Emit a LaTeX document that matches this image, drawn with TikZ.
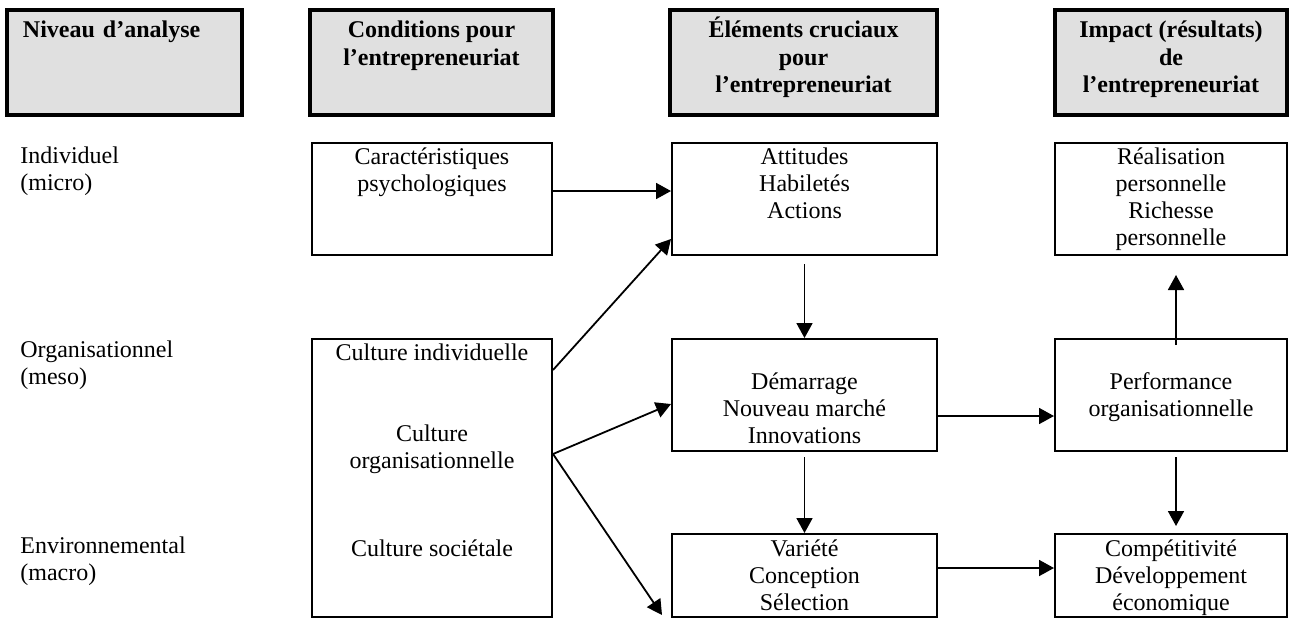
\documentclass[tikz,border=0pt]{standalone}
\usepackage{fontspec}
\setmainfont{Liberation Serif}
\usetikzlibrary{arrows.meta}
\definecolor{hdrgray}{RGB}{224,224,224}

\begin{document}
\begin{tikzpicture}[x=0.5pt,y=-0.5pt,
  font=\fontsize{12}{13.6}\selectfont,
  hdr/.style={draw, line width=1.8pt, fill=hdrgray, anchor=north, align=center,
    font=\fontsize{12}{13.6}\selectfont\bfseries, inner ysep=1.5pt},
  box/.style={draw, line width=1pt, anchor=north, align=center, inner ysep=1.5pt},
  lvl/.style={anchor=north west, align=left, inner sep=0pt, text height=22.6pt},
  arr/.style={-{Triangle[length=7.5pt,width=8pt]}, line width=0.9pt}]
\useasboundingbox (0,0) rectangle (1291,618);
% headers
\node[hdr, align=left, inner xsep=8pt, text width=101.5pt, text height=12.5pt, text depth=37pt] (h0) at (124.5,8) {Niveau d’analyse};
\node[hdr, minimum width=121.5pt, text height=26.1pt, text depth=23.4pt] (h1) at (431.5,8) {Conditions pour\\l’entrepreneuriat};
\node[hdr, minimum width=133.5pt, text height=39.7pt, text depth=9.8pt] (h2) at (803.5,8) {Éléments cruciaux\\pour\\l’entrepreneuriat};
\node[hdr, minimum width=116pt, text height=39.7pt, text depth=9.8pt] (h3) at (1171,8) {Impact (résultats)\\de\\l’entrepreneuriat};
% levels
\node[lvl] (l0) at (20,145) {Individuel\\(micro)};
\node[lvl] (l1) at (20,339) {Organisationnel\\(meso)};
\node[lvl] (l2) at (20,535) {Environnemental\\(macro)};
% boxes
\node[box, minimum width=120pt, text height=22.6pt, text depth=30.4pt] (caract) at (432,142) {Caractéristiques\\psychologiques};
\node[box, minimum width=132.5pt, text height=36.2pt, text depth=16.8pt] (attit) at (804.5,142) {Attitudes\\Habiletés\\Actions};
\node[box, minimum width=116pt, text height=49.8pt, text depth=3.2pt] (realis) at (1171,142) {Réalisation\\personnelle\\Richesse\\personnelle};
\node[box, minimum width=120pt, text height=107pt, text depth=29pt] (culture) at (432,338) {Culture individuelle\\[27.2pt]Culture\\organisationnelle\\[30pt]Culture sociétale};
\node[box, minimum width=132.5pt, text height=50.7pt, text depth=2.3pt] (demar) at (804.5,338) {Démarrage\\Nouveau marché\\Innovations};
\node[box, minimum width=116pt, text height=37.1pt, text depth=15.9pt] (perf) at (1171,338) {Performance\\organisationnelle};
\node[box, minimum width=132.5pt, text height=36.7pt, text depth=1.8pt] (variete) at (804.5,533) {Variété\\Conception\\Sélection};
\node[box, minimum width=116pt, text height=36.7pt, text depth=1.8pt] (compet) at (1171,533) {Compétitivité\\Développement\\économique};
% arrows
\coordinate (cfork) at ([yshift=12pt]culture.east);
\draw[arr] ([yshift=4pt]caract.east) -- ([yshift=4pt]attit.west);
\draw[arr] ([yshift=-16pt]culture.north east) -- ([yshift=8.5pt]attit.south west);
\draw[arr] (cfork) -- ([yshift=-4.5pt]demar.west);
\draw[arr] (cfork) -- ([xshift=-4.5pt,yshift=1.5pt]variete.south west);
\draw[arr] ([yshift=-4pt]attit.south) -- (demar.north);
\draw[arr] ([yshift=-2.5pt]demar.south) -- (variete.north);
\draw[arr] ([yshift=-10.5pt]demar.east) -- ([yshift=-10.5pt]perf.west);
\draw[arr] ([xshift=2.5pt,yshift=-3.5pt]perf.north) -- ([xshift=2.5pt,yshift=-9.5pt]realis.south);
\draw[arr] ([xshift=2.5pt,yshift=-2.5pt]perf.south) -- ([xshift=2.5pt,yshift=3.5pt]compet.north);
\draw[arr] ([yshift=3.75pt]variete.east) -- ([yshift=3.75pt]compet.west);
\end{tikzpicture}
\end{document}
